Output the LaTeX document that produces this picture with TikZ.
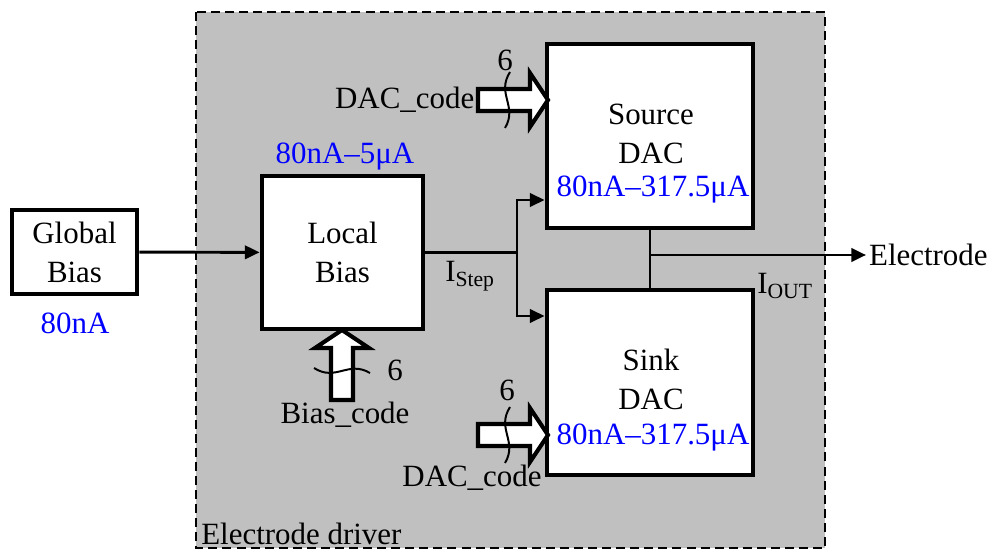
\documentclass[tikz,border=0pt]{standalone}
\usepackage{fontspec}
\setmainfont{Liberation Serif}
\usetikzlibrary{arrows.meta}

\definecolor{drvgray}{RGB}{192,192,192}
\definecolor{rangeblue}{RGB}{0,0,255}

\tikzset{
  block/.style={draw, fill=white, line width=3.4pt, align=center, inner sep=0pt},
  wire/.style={line width=2.1pt},
  sig/.style={wire, -{Triangle[length=10.5pt,width=9.5pt]}},
  currange/.style={text=rangeblue, inner sep=0pt},
  % hollow bus arrow, tip at the origin, pointing along +x
  pics/busarrow/.style={code={
    \draw[line width=2.9pt, fill=white, line join=miter]
      (-70,-11) -- (-18,-11) -- (-18,-27) -- (0,0) -- (-18,27) -- (-18,11) -- (-70,11) -- cycle;
    \draw[line width=1.4pt] (-38,-28) .. controls (-52,-6) and (-30,6) .. (-43,28);
  }},
}

\begin{document}
\begin{tikzpicture}[x=0.025cm, y=-0.025cm, font=\fontsize{22}{27.7}\selectfont]
  \useasboundingbox (0,0) rectangle (997,550);

  % electrode driver area
  \fill[drvgray] (196,12) rectangle (825,548);
  \draw[line width=1.6pt, dash pattern=on 6.4pt off 3.6pt] (196,12) rectangle (825,548);
  \node[anchor=south west, inner sep=0pt] (drvlabel) at (201,545) {Electrode driver};

  % blocks
  \node[block, minimum width=3.125cm, minimum height=2.1cm] (gb) at (74.5,252) {Global\\Bias};
  \node[currange] (gbrange) at (75,323) {80nA};

  \node[block, minimum width=4.025cm, minimum height=3.825cm] (lb) at (342.5,252.5) {Local\\Bias};
  \node[currange] (lbrange) at (345,157) {80nA–5μA};

  \node[block, minimum width=5.15cm, minimum height=4.6cm] (src) at (650,136) {};
  \node[align=center] (srctext) at (651,134) {Source\\DAC};
  \node[currange] (srcrange) at (653,190) {80nA–317.5μA};

  \node[block, minimum width=5.15cm, minimum height=4.625cm] (snk) at (650,382.5) {};
  \node[align=center] (snktext) at (651,379) {Sink\\DAC};
  \node[currange] (snkrange) at (653,438) {80nA–317.5μA};

  % bias current path
  \draw[sig] (gb) -- (lb);
  \coordinate (split) at (517,252.5);
  \draw[wire] (lb.east) -- (split);
  \draw[sig] (split) |- (src.west |- 0,200);
  \draw[sig] (split) |- (snk.west |- 0,316);
  \node (istep) at (470,276) {I\textsubscript{Step}};

  % output
  \node[anchor=west, inner sep=2pt] (electrode) at (866,255) {Electrode};
  \draw[wire] (src.south) -- (snk.north);
  \draw[sig] (src.south |- 0,255) -- (electrode.west);
  \node (iout) at (785,286) {I\textsubscript{OUT}};

  % digital codes
  \pic at (548,100) {busarrow};
  \node (n1) at (505,60) {6};
  \node[anchor=east, inner sep=1pt] (daccode1) at (476,100) {DAC\_code};

  \pic[rotate=90] at (342,330) {busarrow};
  \node (n2) at (395,370) {6};
  \node (biascode) at (345,415) {Bias\_code};

  \pic at (548,435) {busarrow};
  \node (n3) at (507,390) {6};
  \node (daccode2) at (472,478) {DAC\_code};
\end{tikzpicture}
\end{document}
